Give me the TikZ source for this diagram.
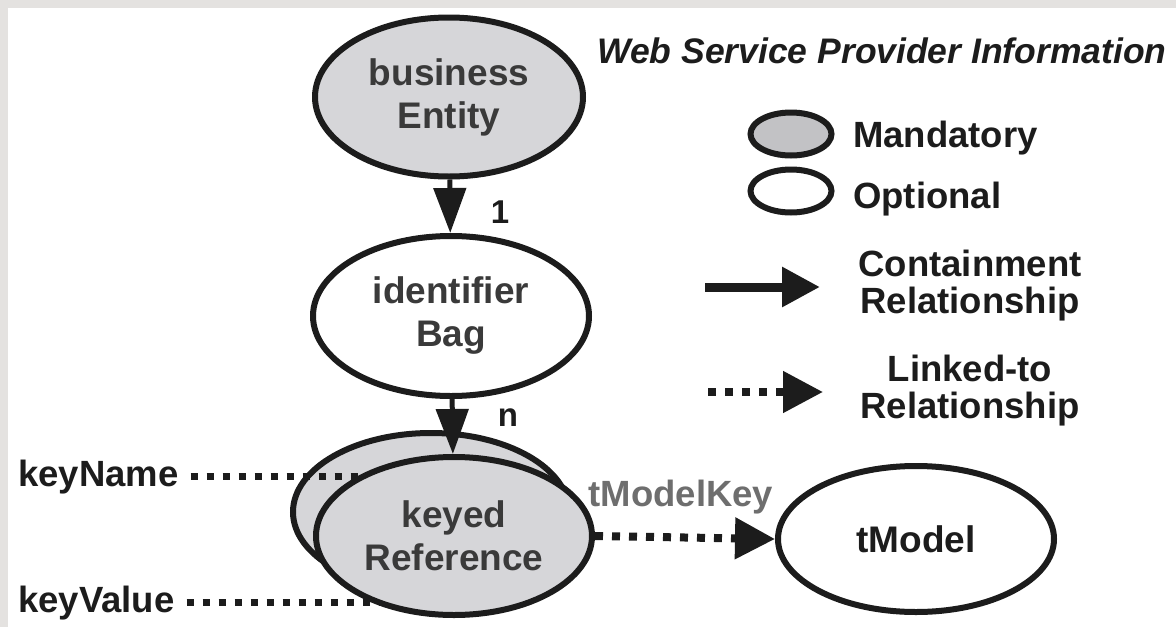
\documentclass[tikz,border=0pt]{standalone}
\usepackage{fontspec}
\setmainfont{Liberation Sans}
\usetikzlibrary{shapes.geometric,arrows.meta}

\definecolor{panelgrey}{HTML}{E4E2E0}
\definecolor{mandfill}{HTML}{D6D6D9}
\definecolor{legfill}{HTML}{C2C2C5}
\definecolor{ink}{HTML}{1C1C1C}
\definecolor{nodetext}{HTML}{3A3A3A}
\definecolor{keytext}{HTML}{6E6E6E}

\newcommand{\entfont}{\fontsize{37}{43}\selectfont\bfseries}
\newcommand{\legfont}{\fontsize{36.5}{37}\selectfont\bfseries}
\newcommand{\titlefont}{\fontsize{35.5}{40}\selectfont\bfseries\itshape}

\begin{document}
\begin{tikzpicture}[x=1pt,y=-1pt,
  entity/.style={ellipse, draw=ink, line width=6pt, inner sep=0pt,
    minimum width=276pt, minimum height=158pt, align=center,
    font=\entfont, text=nodetext},
  mandatory/.style={entity, fill=mandfill},
  optional/.style={entity, fill=white},
  contain/.style={draw=ink, line width=5pt, -{Triangle[length=45pt,width=32pt]}},
  linked/.style={draw=ink, line width=8pt, dash pattern=on 8pt off 9pt,
    -{Triangle[length=40pt,width=40pt]}},
  keyline/.style={draw=ink, line width=7pt, dash pattern=on 7pt off 9pt},
  legcontain/.style={draw=ink, line width=9pt, -{Triangle[length=38pt,width=38pt]}},
  legsample/.style={ellipse, draw=ink, line width=6pt, inner sep=0pt,
    minimum width=81pt, minimum height=43pt},
  lbl/.style={font=\legfont, text=ink, inner sep=0pt},
]
% page and white panel
\useasboundingbox (0,0) rectangle (1176,627);
\fill[panelgrey] (0,0) rectangle (1176,627);
\fill[white] (8,8) rectangle (1176,627);

% containment chain
\node[mandatory, minimum width=268pt, minimum height=159pt] (be) at (449,97) {business\\Entity};
\node[optional, minimum height=160pt] (ib) at (451,316) {identifier\\Bag};

% stacked keyedReference (repeating element)
\node[mandatory] (krb) at (431,512) {};
\coordinate (krc) at (454,536);
\node[lbl, anchor=base west] (kn) at (18,486) {keyName};
\node[lbl, anchor=base west] (kv) at (18,612) {keyValue};
\draw[keyline, shorten <=12pt] (kn.east) -- (kn.east -| krc);
\draw[keyline, shorten <=12pt] (kv.east) -- (kv.east -| krc);
\node[mandatory] (kr) at (krc) {keyed\\Reference};

\draw[contain] (be) -- (ib);
\draw[contain] (ib) -- (kr);
\node[lbl, font=\fontsize{33}{36}\selectfont\bfseries] (one) at (500,212) {1};
\node[lbl, font=\fontsize{33}{36}\selectfont\bfseries] (en) at (508,418) {n};

% linked tModel
\node[optional, text=ink, minimum height=146pt] (tm) at (916,539) {tModel};
\draw[linked] (kr.east) -- (tm.west);
\node[lbl, text=keytext] (tk) at (681,497) {tModelKey};

% legend
\node[lbl, font=\titlefont, anchor=base west] (title) at (597,63) {Web Service Provider Information};
\node[legsample, fill=legfill] (lm) at (791,134) {};
\node[legsample, fill=white] (lo) at (791,191) {};
\node[lbl, anchor=base west] (lmt) at (853,147) {Mandatory};
\node[lbl, anchor=base west] (lot) at (853,208) {Optional};

\coordinate (ca) at (705,287);
\coordinate (cb) at (820,287);
\draw[legcontain] (ca) -- (cb);
\node[lbl, align=center] (ct) at (970,286) {Containment\\Relationship};

\coordinate (da) at (708,392);
\coordinate (db) at (823,392);
\draw[linked] (da) -- (db);
\node[lbl, align=center] (lt) at (970,391) {Linked-to\\Relationship};
\end{tikzpicture}
\end{document}
